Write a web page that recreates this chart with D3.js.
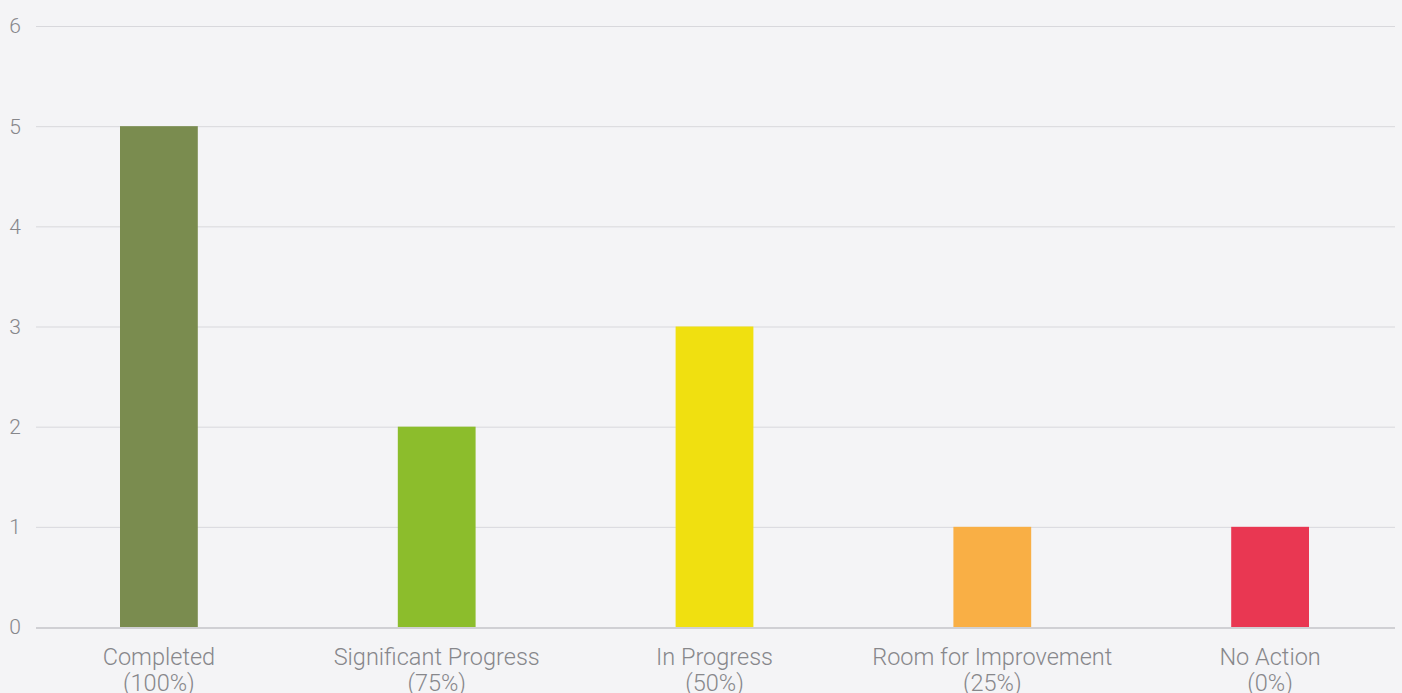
<!DOCTYPE html>
<html lang="en">
  <head>
    <meta charset="utf-8" />
    <title>Progress status</title>
    <script src="https://cdn.jsdelivr.net/npm/d3@7"></script>
    <style>
      html, body { margin: 0; padding: 0; background: #f4f4f6; overflow: hidden; }
      text { font-family: Roboto, "Noto Sans", sans-serif; font-weight: 300; }
    </style>
  </head>
  <body>
    <div id="root"></div>

    <script type="text/javascript">
      // data
      const categories = ["Completed", "Significant Progress", "In Progress", "Room for Improvement", "No Action"];
      const percents = ["(100%)", "(75%)", "(50%)", "(25%)", "(0%)"];
      const counts = [5, 2, 3, 1, 1];
      const colors = ["#7a8c4f", "#8cbd2c", "#f0e010", "#f9af45", "#e93752"];
      const yTicks = [0, 1, 2, 3, 4, 5, 6];

      // dimensions
      const width = 1402;
      const height = 693;
      const gridLeft = 36;
      const gridRight = 1395;
      const yTop = 26;
      const yBottom = 627;

      const xScale = d3
        .scaleBand()
        .domain(categories)
        .range([20, 1409])
        .paddingInner(0.72)
        .paddingOuter(0.36);

      const yScale = d3.scaleLinear().domain([0, 6]).range([yBottom, yTop]);

      const svg = d3.select("#root").append("svg")
        .attr("width", width)
        .attr("height", height);

      // gridlines
      svg.append("g")
        .selectAll("line")
        .data(yTicks.filter(d => d > 0))
        .enter()
        .append("line")
        .attr("x1", gridLeft)
        .attr("x2", gridRight)
        .attr("y1", d => yScale(d) + 0.5)
        .attr("y2", d => yScale(d) + 0.5)
        .attr("stroke", "#d8d8dc")
        .attr("stroke-width", 1);

      // y tick labels
      svg.append("g")
        .selectAll("text")
        .data(yTicks)
        .enter()
        .append("text")
        .attr("x", 15)
        .attr("y", d => yScale(d))
        .attr("dy", "0.35em")
        .attr("text-anchor", "middle")
        .attr("font-size", 21)
        .attr("font-weight", 400)
        .attr("fill", "#87878b")
        .text(d => d);

      // bars
      svg.append("g")
        .selectAll("rect")
        .data(counts)
        .enter()
        .append("rect")
        .attr("x", (d, i) => xScale(categories[i]))
        .attr("y", d => yScale(d))
        .attr("width", xScale.bandwidth())
        .attr("height", d => yScale(0) - yScale(d))
        .attr("fill", (d, i) => colors[i]);

      // baseline
      svg.append("line")
        .attr("x1", gridLeft)
        .attr("x2", gridRight)
        .attr("y1", yScale(0) + 1)
        .attr("y2", yScale(0) + 1)
        .attr("stroke", "#d0d0d4")
        .attr("stroke-width", 2);

      // x labels
      const xLabels = svg.append("g")
        .selectAll("text")
        .data(categories)
        .enter()
        .append("text")
        .attr("x", d => xScale(d) + xScale.bandwidth() / 2)
        .attr("y", 665)
        .attr("text-anchor", "middle")
        .attr("font-size", 23.5)
        .attr("fill", "#87878b");

      xLabels.append("tspan")
        .attr("x", d => xScale(d) + xScale.bandwidth() / 2)
        .text(d => d);
      xLabels.append("tspan")
        .attr("x", d => xScale(d) + xScale.bandwidth() / 2)
        .attr("dy", 26)
        .text((d, i) => percents[i]);
    </script>
  </body>
</html>
